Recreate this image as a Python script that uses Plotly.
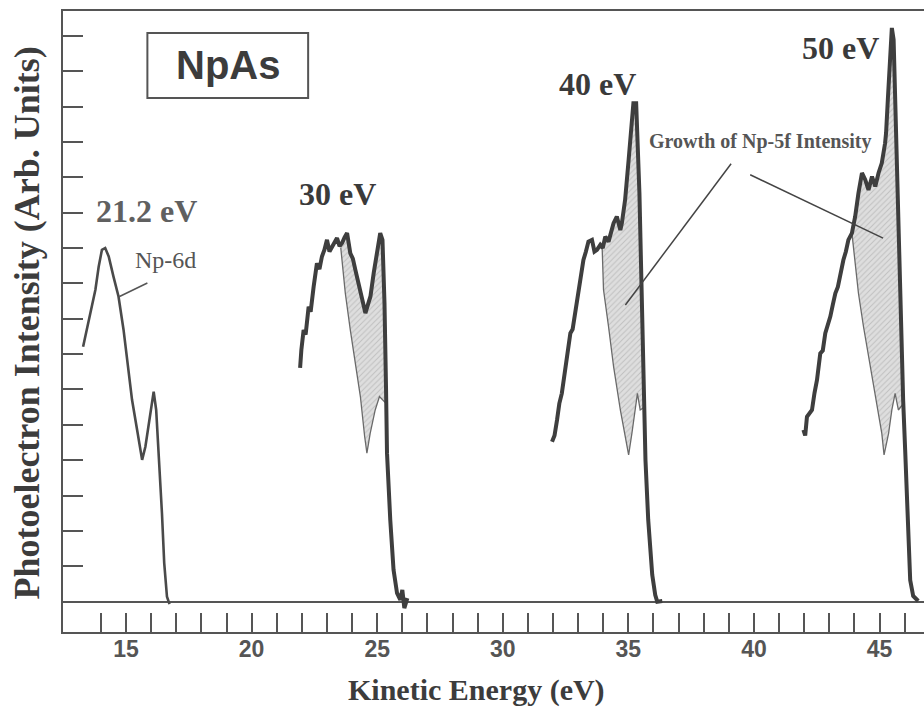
import numpy as np
import plotly.graph_objects as go

# ---------------- data ----------------
e21_x = [13.29, 13.38, 13.58, 13.78, 13.91, 14.04, 14.17, 14.31, 14.50, 14.70, 14.90, 15.10,
         15.24, 15.44, 15.64, 15.77, 15.97, 16.10, 16.20, 16.34, 16.43, 16.52, 16.63, 16.73]
e21_y = [7.21, 7.49, 8.16, 8.82, 9.47, 9.95, 10.0, 9.76, 9.19, 8.63, 7.69, 6.56,
         5.70, 4.86, 4.01, 4.38, 5.42, 5.94, 5.42, 3.82, 2.50, 1.09, 0.14, -0.07]

e30_x = [21.93, 21.95, 21.98, 22.07, 22.15, 22.27, 22.35, 22.47, 22.60, 22.70,
         22.80, 22.90, 23.00, 23.10, 23.20, 23.30, 23.40, 23.50, 23.60, 23.70,
         23.80, 23.93, 24.03, 24.13, 24.23, 24.33, 24.43, 24.53, 24.63, 24.73,
         24.86, 24.99, 25.12, 25.21, 25.29, 25.35, 25.39, 25.52, 25.65, 25.79,
         25.92, 26.00, 26.08, 26.20]
e30_y = [6.61, 6.95, 7.12, 7.68, 7.55, 8.34, 8.20, 8.91, 9.57, 9.40,
         9.76, 9.95, 10.23, 9.90, 10.04, 10.20, 10.28, 10.05, 10.14, 10.30,
         10.42, 9.85, 9.70, 9.38, 9.10, 8.82, 8.55, 8.16, 8.40, 8.63,
         9.29, 9.95, 10.42, 10.23, 8.44, 6.08, 4.20, 2.31, 0.90, 0.24,
         0.05, 0.33, -0.18, 0.10]
ref30_x = [23.55, 23.73, 23.93, 24.13, 24.33, 24.50, 24.59, 24.72, 24.92, 25.09, 25.36]
ref30_y = [10.0, 8.72, 7.68, 6.74, 5.80, 4.67, 4.20, 4.76, 5.42, 5.80, 5.60]

e40_x = [31.96, 32.06, 32.16, 32.25, 32.35, 32.45, 32.55, 32.69, 32.78, 32.88,
         32.98, 33.08, 33.21, 33.31, 33.41, 33.55, 33.65, 33.75, 33.88, 33.98,
         34.08, 34.21, 34.31, 34.41, 34.54, 34.68, 34.74, 34.87, 35.01, 35.10,
         35.20, 35.31, 35.36, 35.44, 35.50, 35.56, 35.63, 35.68, 35.79, 35.95,
         36.07, 36.15, 36.35]
e40_y = [4.52, 4.70, 5.14, 5.60, 5.89, 6.40, 6.83, 7.59, 7.70, 8.16,
         8.50, 8.91, 9.66, 9.90, 10.18, 10.23, 9.90, 9.95, 10.09, 10.00,
         10.32, 10.18, 10.50, 10.70, 10.89, 10.51, 10.70, 11.36, 12.49, 13.43,
         14.09, 14.09, 13.15, 11.55, 9.66, 7.78, 5.89, 4.01, 2.31, 0.76,
         0.19, 0.0, 0.02]
ref40_x = [33.95, 34.01, 34.21, 34.41, 34.68, 34.87, 35.01, 35.14, 35.27, 35.36, 35.47, 35.64]
ref40_y = [10.15, 8.82, 7.78, 6.65, 5.42, 4.67, 4.15, 4.76, 5.51, 5.89, 5.42, 5.50]

e50_x = [41.97, 42.04, 42.11, 42.31, 42.41, 42.51, 42.64, 42.74, 42.84, 42.94,
         43.04, 43.14, 43.24, 43.34, 43.44, 43.56, 43.66, 43.76, 43.90, 44.03,
         44.16, 44.30, 44.43, 44.56, 44.70, 44.83, 44.96, 45.09, 45.22, 45.26,
         45.33, 45.40, 45.45, 45.49, 45.56, 45.62, 45.69, 45.75, 45.82, 45.94,
         46.02, 46.14, 46.22, 46.34, 46.54]
e50_y = [4.86, 4.70, 5.23, 5.42, 5.90, 6.27, 7.02, 7.10, 7.59, 7.80,
         8.06, 8.40, 8.72, 8.90, 9.29, 9.66, 9.90, 10.23, 10.42, 10.89,
         11.55, 12.12, 11.93, 11.64, 12.02, 11.74, 12.12, 12.40, 12.96, 13.25,
         14.19, 15.13, 16.07, 16.22, 15.89, 14.19, 12.30, 10.42, 8.53, 5.70,
         4.29, 1.74, 0.61, 0.16, 0.02]
ref50_x = [43.90, 44.16, 44.36, 44.63, 44.89, 45.09, 45.18, 45.36, 45.49, 45.62, 45.75, 45.95]
ref50_y = [10.42, 8.72, 7.78, 6.65, 5.61, 4.76, 4.15, 4.76, 5.42, 5.89, 5.42, 5.60]

x_major = [15, 20, 25, 30, 35, 40, 45]
x_minor = list(range(14, 47))
y_ticks = list(range(1, 17))

energy_labels = ["21.2 eV", "30 eV", "40 eV", "50 eV"]

# ---------------- figure ----------------
LINE = "#3e3e3e"
AX = "#555555"
SERIF = "Liberation Serif, Times New Roman, serif"
SANS = "Liberation Sans, Arial, sans-serif"

fig = go.Figure()

# shaded "growth" areas between spectrum and 6d reference
for mx, my, lx, ly in [(e30_x, e30_y, ref30_x, ref30_y),
                       (e40_x, e40_y, ref40_x, ref40_y),
                       (e50_x, e50_y, ref50_x, ref50_y)]:
    mx = np.array(mx); my = np.array(my)
    inside = (mx > lx[0]) & (mx < lx[-1])
    px = list(mx[inside]) + list(lx[::-1])
    py = list(my[inside]) + list(ly[::-1])
    fig.add_trace(go.Scatter(x=px, y=py, mode="lines", fill="toself",
                             line=dict(width=0), fillcolor="rgba(205,205,205,1)",
                             fillpattern=dict(shape="/", fgcolor="#a0a0a0", bgcolor="#dedede",
                                              size=4, solidity=0.25),
                             hoverinfo="skip", showlegend=False))
    fig.add_trace(go.Scatter(x=lx, y=ly, mode="lines",
                             line=dict(color="#6a6a6a", width=1.3),
                             hoverinfo="skip", showlegend=False))

fig.add_trace(go.Scatter(x=e21_x, y=e21_y, mode="lines",
                         line=dict(color="#4a4a4a", width=2.6), showlegend=False))
for xs, ys in [(e30_x, e30_y), (e40_x, e40_y), (e50_x, e50_y)]:
    fig.add_trace(go.Scatter(x=xs, y=ys, mode="lines",
                             line=dict(color=LINE, width=4), showlegend=False))

# annotations
label_pos = [(15.81, 11.04, "#606060"), (23.40, 11.53, "#3a3a3a"),
             (33.78, 14.64, "#3a3a3a"), (43.45, 15.66, "#3a3a3a")]
for txt, (lx_, ly_, col) in zip(energy_labels, label_pos):
    fig.add_annotation(x=lx_, y=ly_, text=txt, showarrow=False,
                       font=dict(family=SERIF, size=32, color=col, weight="bold"))

fig.add_annotation(x=16.57, y=9.66, text="Np-6d", showarrow=False,
                   font=dict(family=SERIF, size=24, color="#555555"))
fig.add_shape(type="line", x0=15.85, y0=9.01, x1=14.72, y1=8.62,
              line=dict(color="#555555", width=1.5))

fig.add_annotation(x=40.25, y=13.0, text="Growth of Np-5f Intensity", showarrow=False,
                   font=dict(family=SERIF, size=20, color="#555555", weight="bold"))
fig.add_shape(type="line", x0=39.09, y0=12.38, x1=34.88, y1=8.39,
              line=dict(color="#444444", width=1.5))
fig.add_shape(type="line", x0=39.85, y0=12.07, x1=45.14, y1=10.28,
              line=dict(color="#444444", width=1.5))

# NpAs box
fig.add_shape(type="rect", x0=15.85, x1=22.25, y0=14.24, y1=16.08,
              line=dict(color="#555555", width=2), fillcolor="rgba(0,0,0,0)")
fig.add_annotation(x=19.07, y=15.18, text="NpAs", showarrow=False,
                   font=dict(family=SANS, size=40, color="#3c3c3c", weight="bold"))

# axis titles
fig.add_annotation(x=28.94, xref="x", y=-0.094, yref="paper", yanchor="middle",
                   text="Kinetic Energy (eV)", showarrow=False,
                   font=dict(family=SERIF, size=30, color="#3c3c3c", weight="bold"))
fig.add_annotation(x=-0.042, xref="paper", xanchor="center", y=0.498, yref="paper",
                   text="Photoelectron Intensity (Arb. Units)", textangle=-90, showarrow=False,
                   font=dict(family=SERIF, size=36, color="#3c3c3c", weight="bold"))

fig.update_layout(
    width=924, height=713,
    margin=dict(l=63, r=0, t=11, b=81),
    paper_bgcolor="white", plot_bgcolor="white",
    showlegend=False,
    xaxis=dict(range=[12.49, 46.77], tickmode="array", tickvals=x_major,
               ticks="inside", ticklen=19, tickwidth=1.5, tickcolor=AX,
               minor=dict(tickmode="array", tickvals=x_minor, ticks="inside",
                          ticklen=19, tickwidth=1.5, tickcolor=AX),
               showline=True, linecolor=AX, linewidth=2, mirror=True,
               showgrid=False, zeroline=False, ticklabelstandoff=-5,
               tickfont=dict(family=SANS, size=23, color="#555555", weight="bold")),
    yaxis=dict(range=[-0.857, 16.70], tickmode="array", tickvals=y_ticks,
               ticks="inside", ticklen=20, tickwidth=1.5, tickcolor=AX,
               showticklabels=False, showline=True, linecolor=AX, linewidth=2,
               showgrid=False, zeroline=True, zerolinecolor=AX, zerolinewidth=2),
)

fig.write_html("out.html")
